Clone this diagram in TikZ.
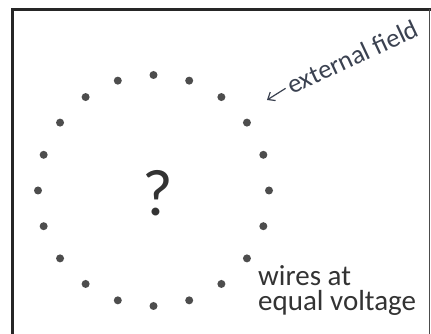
\documentclass[tikz,border=0pt]{standalone}
\usepackage{fontspec}
\setmainfont{Carlito}
\usetikzlibrary{arrows.meta}
\definecolor{inkgray}{HTML}{333333}
\definecolor{dotgray}{HTML}{4D4D4D}
\definecolor{fieldgray}{HTML}{3A4150}

\begin{document}
\begin{tikzpicture}[x=1pt,y=1pt,>={Straight Barb[length=6pt,width=10pt]}]
\useasboundingbox (0,0) rectangle (431,334);
\draw[line width=3pt,black!85] (12.5,0) -- (12.5,324.5) -- (431,324.5);
\draw[line width=1pt,black!70] (429.3,324.5) -- (429.3,0);
\foreach \k in {0,...,19}{
 \fill[dotgray] ({153.5+115.5*cos(90+18*\k)},{143.5+115.5*sin(90+18*\k)}) circle (4pt);
}
\node[inner sep=0pt,text=inkgray,font=\fontsize{66}{68}\selectfont] (ask) at (158,141) {?};
\node[inner sep=0pt,anchor=base west,text=inkgray,font=\fontsize{29}{30}\selectfont] (wires) at (258,48) {wires at};
\node[inner sep=0pt,anchor=base west,text=inkgray,font=\fontsize{29}{30}\selectfont] (voltage) at (258,23) {equal voltage};
\node[inner sep=0pt,anchor=base west,rotate=25,text=fieldgray,font=\fontsize{26.5}{28}\selectfont] (field) at (292,239) {external field};
\coordinate (fieldtip) at (267,234);
\draw[<-,line width=1.2pt,fieldgray,shorten >=3pt] (fieldtip) -- (field.west);
\end{tikzpicture}
\end{document}
